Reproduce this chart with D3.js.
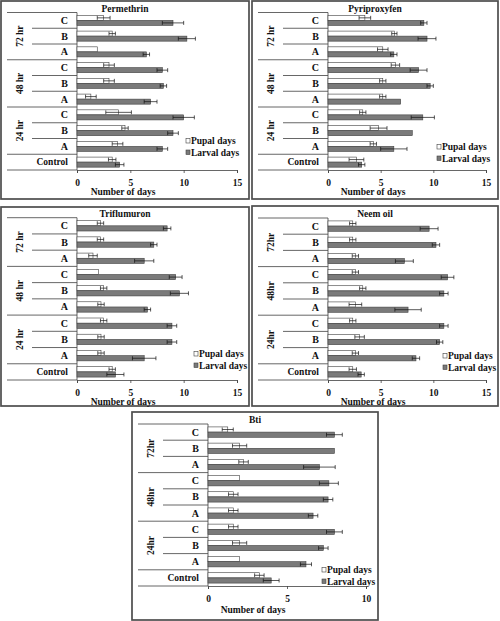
<!DOCTYPE html>
<html lang="en">
<head>
<meta charset="UTF-8">
<title>Pupal and larval days by treatment</title>
<script src="https://d3js.org/d3.v7.min.js"></script>
<style>
    body { margin: 0; background: #fff; }
    text { font-family: "Liberation Serif", "Times New Roman", serif; font-weight: bold; fill: #111; }
</style>
</head>
<body>
<div id="chart"></div>
<script>
// rows from bottom to top: Control, 24 hr A/B/C, 48 hr A/B/C, 72 hr A/B/C
const levels = ["A", "B", "C"];
const groupsSpaced = ["24 hr", "48 hr", "72 hr"];
const groupsTight = ["24hr", "48hr", "72hr"];
const seriesNames = ["Pupal days", "Larval days"];

const permPupal    = [3.3, 3.8, 4.5, 3.9, 1.3, 3.0, 3.0, 1.9, 3.3, 2.5];
const permPupalErr = [0.35, 0.5, 0.3, 1.2, 0.5, 0.5, 0.5, 0, 0.3, 0.6];
const permLarval   = [4.0, 8.0, 9.0, 10.0, 6.9, 8.1, 8.0, 6.5, 10.3, 9.0];
const permLarvalErr= [0.4, 0.5, 0.5, 1.0, 0.6, 0.3, 0.5, 0.3, 0.8, 1.0];

const pyriPupal    = [2.7, 4.3, 4.8, 3.3, 5.2, 5.2, 6.4, 5.2, 6.3, 3.5];
const pyriPupalErr = [0.7, 0.3, 0.8, 0.3, 0.3, 0.3, 0.4, 0.5, 0.25, 0.55];
const pyriLarval   = [3.2, 6.25, 8.0, 9.0, 6.9, 9.7, 8.6, 6.25, 9.4, 9.1];
const pyriLarvalErr= [0.3, 1.25, 0, 1.1, 0, 0.3, 0.8, 0.3, 0.85, 0.3];

const trifPupal    = [3.3, 2.25, 2.25, 2.5, 2.25, 2.5, 2.0, 1.5, 2.2, 2.2];
const trifPupalErr = [0.3, 0.3, 0.3, 0.3, 0.3, 0.3, 0, 0.4, 0.3, 0.3];
const trifLarval   = [3.6, 6.3, 8.9, 8.9, 6.6, 9.6, 9.25, 6.3, 7.2, 8.45];
const trifLarvalErr= [0.8, 1.1, 0.45, 0.45, 0.3, 0.85, 0.6, 0.9, 0.3, 0.35];

const neemPupal    = [2.35, 2.6, 3.0, 2.35, 2.6, 3.3, 2.6, 2.6, 2.35, 2.35];
const neemPupalErr = [0.35, 0.3, 0.45, 0.3, 0.6, 0.3, 0.3, 0.3, 0.3, 0.3];
const neemLarval   = [3.15, 8.35, 10.6, 11.0, 7.6, 11.0, 11.35, 7.25, 10.25, 9.6];
const neemLarvalErr= [0.3, 0.35, 0.3, 0.4, 1.25, 0.4, 0.6, 0.85, 0.35, 0.85];

const btiPupal     = [3.25, 2.0, 2.0, 1.6, 1.6, 1.6, 2.0, 2.25, 2.0, 1.25];
const btiPupalErr  = [0.3, 0, 0.45, 0.3, 0.3, 0.3, 0, 0.3, 0.45, 0.35];
const btiLarval    = [4.0, 6.2, 7.3, 8.0, 6.65, 7.6, 7.65, 7.05, 8.0, 8.0];
const btiLarvalErr = [0.5, 0.35, 0.3, 0.5, 0.3, 0.3, 0.6, 1.0, 0, 0.5];

const ticks15 = [0, 5, 10, 15];
const ticks10 = [0, 5, 10];

// panel layout (pixels)
const panels = [
    { title: "Permethrin", groups: groupsSpaced, max: 15, ticks: ticks15,
      pupal: permPupal, pupalErr: permPupalErr, larval: permLarval, larvalErr: permLarvalErr,
      x: 1, y: 1, w: 248, h: 198, top: 11.5, bottom: 169, legX: 185, legY: 143 },
    { title: "Pyriproxyfen", groups: groupsSpaced, max: 15, ticks: ticks15,
      pupal: pyriPupal, pupalErr: pyriPupalErr, larval: pyriLarval, larvalErr: pyriLarvalErr,
      x: 252, y: 1, w: 246, h: 198, top: 11.5, bottom: 169, legX: 185, legY: 149 },
    { title: "Triflumuron", groups: groupsSpaced, max: 15, ticks: ticks15,
      pupal: trifPupal, pupalErr: trifPupalErr, larval: trifLarval, larvalErr: trifLarvalErr,
      x: 1, y: 207, w: 248, h: 199, top: 10.7, bottom: 173, legX: 193, legY: 150 },
    { title: "Neem oil", groups: groupsTight, max: 15, ticks: ticks15,
      pupal: neemPupal, pupalErr: neemPupalErr, larval: neemLarval, larvalErr: neemLarvalErr,
      x: 252, y: 206, w: 246, h: 200, top: 12, bottom: 174, legX: 191, legY: 153 },
    { title: "Bti", groups: groupsTight, max: 10, ticks: ticks10,
      pupal: btiPupal, pupalErr: btiPupalErr, larval: btiLarval, larvalErr: btiLarvalErr,
      x: 132, y: 412, w: 246, h: 208, top: 12, bottom: 174, legX: 190, legY: 161 }
];

const width = 500, height = 621;
const plotLeft = 76;
const lineColor = "#404040";
const larvalFill = "#7a7a7a";

const svg = d3.select("#chart").append("svg")
    .attr("width", width)
    .attr("height", height);

svg.append("rect").attr("width", width).attr("height", height).attr("fill", "#fff");

function drawPanel(p) {
    const g = svg.append("g").attr("transform", `translate(${p.x},${p.y})`);

    g.append("rect")
        .attr("x", 0).attr("y", 0)
        .attr("width", p.w).attr("height", p.h)
        .attr("fill", "#fff")
        .attr("stroke", "#4d4d4d")
        .attr("stroke-width", 1.7);

    const rows = d3.range(10);
    const x = d3.scaleLinear().domain([0, p.max]).range([plotLeft, p.w - 12]);
    const y = d3.scaleBand().domain(rows).range([p.bottom, p.top]);
    const bw = y.bandwidth();

    // category separator lines in the label column
    d3.range(11).forEach(k => {
        const yy = p.bottom - k * bw;
        const full = (k === 0 || k === 1 || k === 4 || k === 7 || k === 10);
        g.append("line")
            .attr("x1", full ? 6 : 31).attr("x2", plotLeft)
            .attr("y1", yy).attr("y2", yy)
            .attr("stroke", lineColor).attr("stroke-width", 0.8);
    });

    // x axis
    const axis = g.append("g")
        .attr("transform", `translate(0,${p.bottom})`)
        .call(d3.axisBottom(x).tickValues(p.ticks).tickSize(3).tickSizeOuter(3).tickPadding(6));
    axis.select(".domain").attr("stroke", lineColor).attr("stroke-width", 0.8);
    axis.selectAll(".tick line").attr("stroke", lineColor).attr("stroke-width", 0.8);
    axis.selectAll(".tick text")
        .attr("font-family", "Liberation Serif, serif")
        .attr("font-weight", "bold")
        .attr("font-size", 9.5)
        .attr("fill", "#111");

    // vertical category axis line
    g.append("line")
        .attr("x1", x(0)).attr("x2", x(0))
        .attr("y1", p.top).attr("y2", p.bottom)
        .attr("stroke", lineColor).attr("stroke-width", 0.8);

    const barH = bw * 0.32;
    const series = [
        { vals: p.pupal, errs: p.pupalErr, off: bw * 0.18, fill: "#fff" },
        { vals: p.larval, errs: p.larvalErr, off: bw * 0.5, fill: larvalFill }
    ];

    series.forEach(s => {
        g.append("g").selectAll("rect")
            .data(rows)
            .join("rect")
            .attr("x", x(0))
            .attr("y", i => y(i) + s.off)
            .attr("width", i => x(s.vals[i]) - x(0))
            .attr("height", barH)
            .attr("fill", s.fill)
            .attr("stroke", lineColor)
            .attr("stroke-width", 0.6);

        const eb = g.append("g").selectAll("g")
            .data(rows.filter(i => s.errs[i] > 0))
            .join("g")
            .attr("stroke", "#111")
            .attr("stroke-width", 0.7);
        const cy = i => y(i) + s.off + barH / 2;
        eb.append("line")
            .attr("x1", i => x(s.vals[i] - s.errs[i]))
            .attr("x2", i => x(s.vals[i] + s.errs[i]))
            .attr("y1", cy).attr("y2", cy);
        [-1, 1].forEach(sign => {
            eb.append("line")
                .attr("x1", i => x(s.vals[i] + sign * s.errs[i]))
                .attr("x2", i => x(s.vals[i] + sign * s.errs[i]))
                .attr("y1", i => cy(i) - 2).attr("y2", i => cy(i) + 2);
        });
    });

    // category labels
    g.append("g").selectAll("text")
        .data(rows)
        .join("text")
        .attr("x", 67)
        .attr("y", i => y(i) + bw / 2)
        .attr("dy", "0.35em")
        .attr("text-anchor", "end")
        .attr("font-size", i => i === 0 ? 9.5 : 10)
        .text(i => i === 0 ? "Control" : levels[(i - 1) % 3]);

    // group labels (rotated)
    p.groups.forEach((lab, gi) => {
        const cy = p.bottom - bw * (1 + gi * 3 + 1.5);
        g.append("text")
            .attr("transform", `translate(19,${cy}) rotate(-90)`)
            .attr("text-anchor", "middle")
            .attr("dy", "0.35em")
            .attr("font-size", 9.5)
            .text(lab);
    });

    // title
    g.append("text")
        .attr("x", p.w / 2)
        .attr("y", p.top - 1)
        .attr("text-anchor", "middle")
        .attr("font-size", 9.5)
        .text(p.title);

    // axis title
    g.append("text")
        .attr("x", p.w / 2 - 2)
        .attr("y", p.bottom + (p.h - p.bottom > 30 ? 27 : 25))
        .attr("text-anchor", "middle")
        .attr("font-size", 9.5)
        .text("Number of days");

    // legend
    seriesNames.forEach((name, si) => {
        const by = p.legY + si * 11.5;
        g.append("rect")
            .attr("x", p.legX).attr("y", by - 5.5)
            .attr("width", 4).attr("height", 4.5)
            .attr("fill", si === 0 ? "#fff" : larvalFill)
            .attr("stroke", lineColor)
            .attr("stroke-width", 0.6);
        g.append("text")
            .attr("x", p.legX + 5)
            .attr("y", by)
            .attr("font-size", 9.5)
            .text(name);
    });
}

panels.forEach(drawPanel);
</script>
</body>
</html>
